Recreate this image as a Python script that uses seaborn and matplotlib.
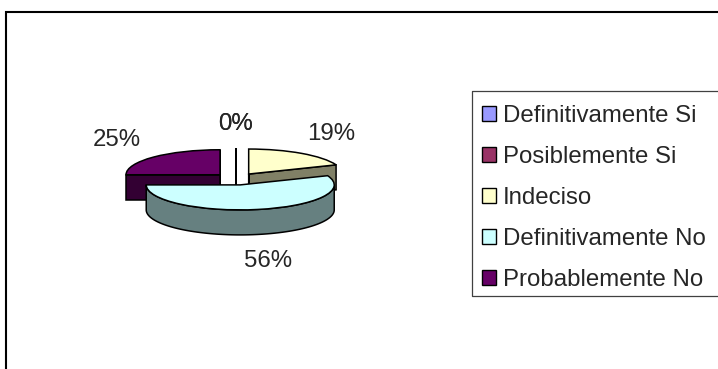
import numpy as np
import matplotlib
matplotlib.use("Agg")
import matplotlib.pyplot as plt
from matplotlib.colors import to_rgb
from matplotlib.lines import Line2D
from matplotlib.patches import Patch, Polygon
import seaborn as sns

# datos de la encuesta
categories = ['Definitivamente Si', 'Posiblemente Si', 'Indeciso',
              'Definitivamente No', 'Probablemente No']
values = [0, 0, 19, 56, 25]
pct_labels = ['0%', '0%', '19%', '56%', '25%']
colors = ['#9999FF', '#993366', '#FFFFCC', '#CCFFFF', '#660066']

sns.set_style('white')
plt.rcParams['font.family'] = ['Liberation Sans', 'DejaVu Sans']

W, H = 718, 369
fig = plt.figure(figsize=(W / 100, H / 100), dpi=100)
ax = fig.add_axes([0, 0, 1, 1])

# tapa superior de cada porcion (pie "3D" inclinado)
wedges, _ = ax.pie(values, colors=colors, startangle=90, counterclock=False,
                   explode=[0.24] * len(values),
                   wedgeprops=dict(edgecolor='black', linewidth=1.1, zorder=3))

depth = 1.0
sides = []
for w, col in zip(wedges, colors):
    cx, cy = w.center
    r = w.r
    dark = tuple(c * 0.5 for c in to_rgb(col))
    t1, t2 = np.radians(w.theta1), np.radians(w.theta2)
    # caras radiales que miran al frente
    faces = []
    if np.cos(t1) > -1e-9:
        faces.append(t1)
    if np.cos(t2) < -1e-9:
        faces.append(t2)
    for t in faces:
        px, py = cx + r * np.cos(t), cy + r * np.sin(t)
        pts = [(cx, cy), (px, py), (px, py - depth), (cx, cy - depth)]
        sides.append((cy, pts, dark))
    # pared exterior (solo la parte frontal)
    t = np.linspace(t1, t2, 400)
    front = np.sin(t) < 0
    idx = np.where(front)[0]
    if len(idx) > 1:
        runs = np.split(idx, np.where(np.diff(idx) > 1)[0] + 1)
        for run in runs:
            if len(run) < 2:
                continue
            tt = t[run]
            top = np.column_stack([cx + r * np.cos(tt), cy + r * np.sin(tt)])
            bot = top[::-1] - [0, depth]
            sides.append((cy, np.vstack([top, bot]), dark))

sides.sort(key=lambda s: -s[0])
for i, (cy, pts, dark) in enumerate(sides):
    ax.add_patch(Polygon(pts, closed=True, facecolor=dark, edgecolor='black',
                         linewidth=1.1, zorder=1 + i * 0.01))

# etiquetas de porcentaje
for w, lab in zip(wedges, pct_labels):
    mid = np.radians((w.theta1 + w.theta2) / 2)
    lx = 1.8 * np.cos(mid)
    ly = 2.2 * np.sin(mid)
    if np.sin(mid) < -0.05:
        ly -= depth * 1.1
    ax.text(lx, ly, lab, ha='center', va='center', fontsize=17.3)

ax.set_aspect('auto')
ax.set_xlim(-236 / 94, (W - 236) / 94)
ax.set_ylim(-(H - 179) / 25, 179 / 25)
ax.axis('off')

# leyenda
handles = [Patch(facecolor=c, edgecolor='black', linewidth=1) for c in colors]
leg = fig.legend(handles, categories, loc='upper left',
                 bbox_to_anchor=(472 / W, 1 - 95 / H), bbox_transform=fig.transFigure,
                 frameon=False, fontsize=17.3, handlelength=0.58, handleheight=0.58,
                 handletextpad=0.3, labelspacing=0.79, borderpad=0.4, borderaxespad=0)

# marco de la leyenda (abierto por la derecha, cortado en el original)
fig.canvas.draw()
bb = leg.get_window_extent()
x0, y0, y1 = bb.x0 / W, (bb.y0 + 4) / H, (bb.y1 + 4) / H
fig.add_artist(Line2D([1.05, x0, x0, 1.05], [y1, y1, y0, y0], transform=fig.transFigure,
                      color='#404040', linewidth=0.9))

# borde del area del grafico (solo arriba e izquierda)
bx, by = 6 / W, 1 - 12 / H
fig.add_artist(Line2D([bx, bx, 1.05], [-0.05, by, by], transform=fig.transFigure,
                      color='black', linewidth=1.5, solid_joinstyle='miter'))

fig.savefig('out.png', dpi=100)
